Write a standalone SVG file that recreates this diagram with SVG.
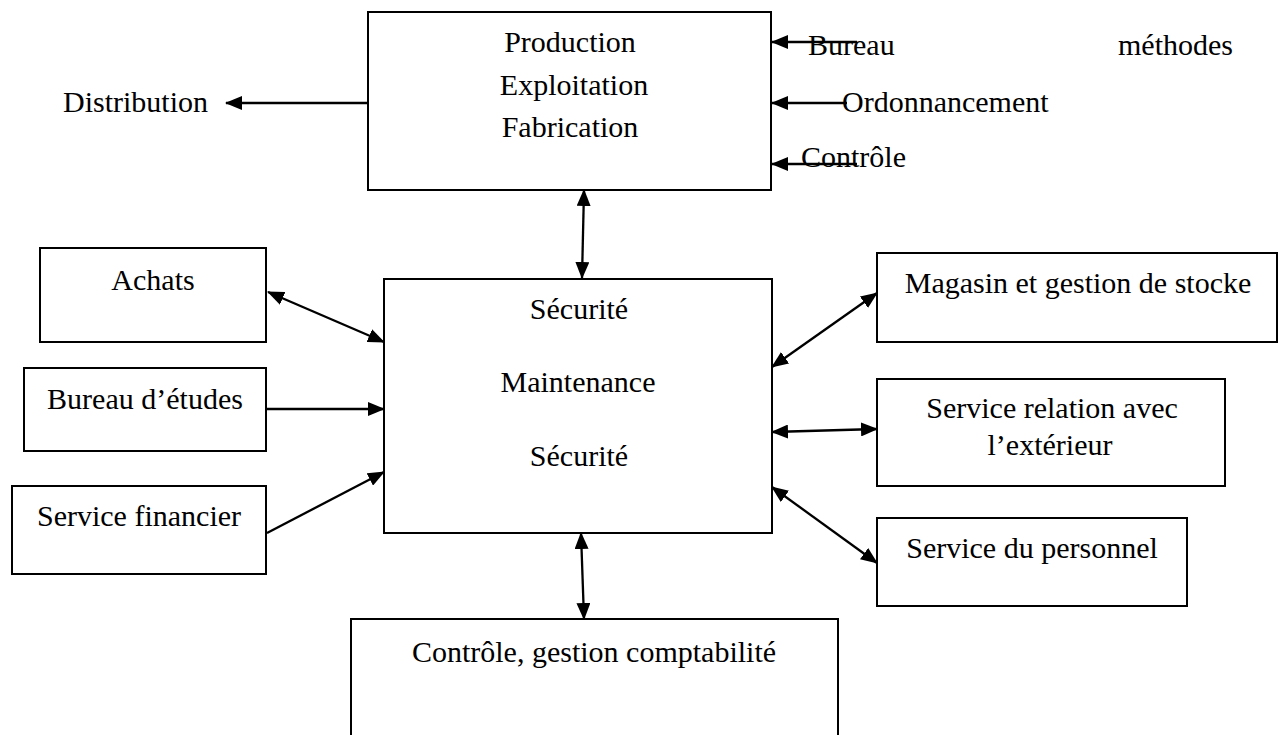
<svg xmlns="http://www.w3.org/2000/svg" width="1278" height="735" viewBox="0 0 1278 735">
<style>
  .box { fill: #ffffff; stroke: #000000; stroke-width: 2; }
  .t { font-family: "Liberation Serif", "Times New Roman", serif; font-size: 30px; fill: #000000; }
  .c { text-anchor: middle; }
  .ln { fill: none; stroke: #000000; stroke-width: 2.3; }
</style>
<defs>
  <marker id="ah" viewBox="0 0 17 14" markerWidth="17" markerHeight="14" refX="16" refY="7" orient="auto-start-reverse" markerUnits="userSpaceOnUse">
    <path d="M0,0 L17,7 L0,14 z" fill="#000000"/>
  </marker>
</defs>
<rect width="1278" height="735" fill="#ffffff"/>

<g id="production">
  <rect class="box" x="368" y="12" width="403" height="178"/>
  <text class="t c" x="570" y="52">Production</text>
  <text class="t c" x="574" y="95">Exploitation</text>
  <text class="t c" x="570" y="137">Fabrication</text>
</g>

<g id="maintenance">
  <rect class="box" x="384" y="279" width="388" height="254"/>
  <text class="t c" x="579" y="319">Sécurité</text>
  <text class="t c" x="578" y="392">Maintenance</text>
  <text class="t c" x="579" y="466">Sécurité</text>
</g>

<g id="achats">
  <rect class="box" x="40" y="248" width="226" height="94"/>
  <text class="t c" x="153" y="290">Achats</text>
</g>

<g id="bureau-etudes">
  <rect class="box" x="24" y="368" width="242" height="83"/>
  <text class="t c" x="145" y="409">Bureau d’études</text>
</g>

<g id="service-financier">
  <rect class="box" x="12" y="486" width="254" height="88"/>
  <text class="t c" x="139" y="526">Service financier</text>
</g>

<g id="magasin">
  <rect class="box" x="877" y="253" width="400" height="89"/>
  <text class="t c" x="1078" y="293">Magasin et gestion de stocke</text>
</g>

<g id="relation">
  <rect class="box" x="877" y="379" width="348" height="107"/>
  <text class="t c" x="1052" y="418">Service relation avec</text>
  <text class="t c" x="1050" y="455">l’extérieur</text>
</g>

<g id="personnel">
  <rect class="box" x="877" y="518" width="310" height="88"/>
  <text class="t c" x="1032" y="558">Service du personnel</text>
</g>

<g id="comptabilite">
  <rect class="box" x="351" y="619" width="487" height="140"/>
  <text class="t c" x="594" y="662">Contrôle, gestion comptabilité</text>
</g>

<g id="connectors">
  <path class="ln" d="M368,103 L226,103" marker-end="url(#ah)"/>
  <path class="ln" d="M857,42 L772,42" marker-end="url(#ah)"/>
  <path class="ln" d="M847,103 L772,103" marker-end="url(#ah)"/>
  <path class="ln" d="M857,164 L772,164" marker-end="url(#ah)"/>
  <path class="ln" d="M584,190 L582,278" marker-start="url(#ah)" marker-end="url(#ah)"/>
  <path class="ln" d="M268,292 L384,342" marker-start="url(#ah)" marker-end="url(#ah)"/>
  <path class="ln" d="M266,409 L384,409" marker-end="url(#ah)"/>
  <path class="ln" d="M267,533 L384,472" marker-end="url(#ah)"/>
  <path class="ln" d="M772,367 L877,293" marker-start="url(#ah)" marker-end="url(#ah)"/>
  <path class="ln" d="M772,432 L877,429" marker-start="url(#ah)" marker-end="url(#ah)"/>
  <path class="ln" d="M772,487 L877,563" marker-start="url(#ah)" marker-end="url(#ah)"/>
  <path class="ln" d="M581,533 L584,619" marker-start="url(#ah)" marker-end="url(#ah)"/>
</g>

<g id="labels">
  <text class="t" x="63" y="112">Distribution</text>
  <text class="t" x="808" y="55">Bureau</text>
  <text class="t" x="1118" y="55">méthodes</text>
  <text class="t" x="842" y="112">Ordonnancement</text>
  <text class="t" x="801" y="167">Contrôle</text>
</g>
</svg>
